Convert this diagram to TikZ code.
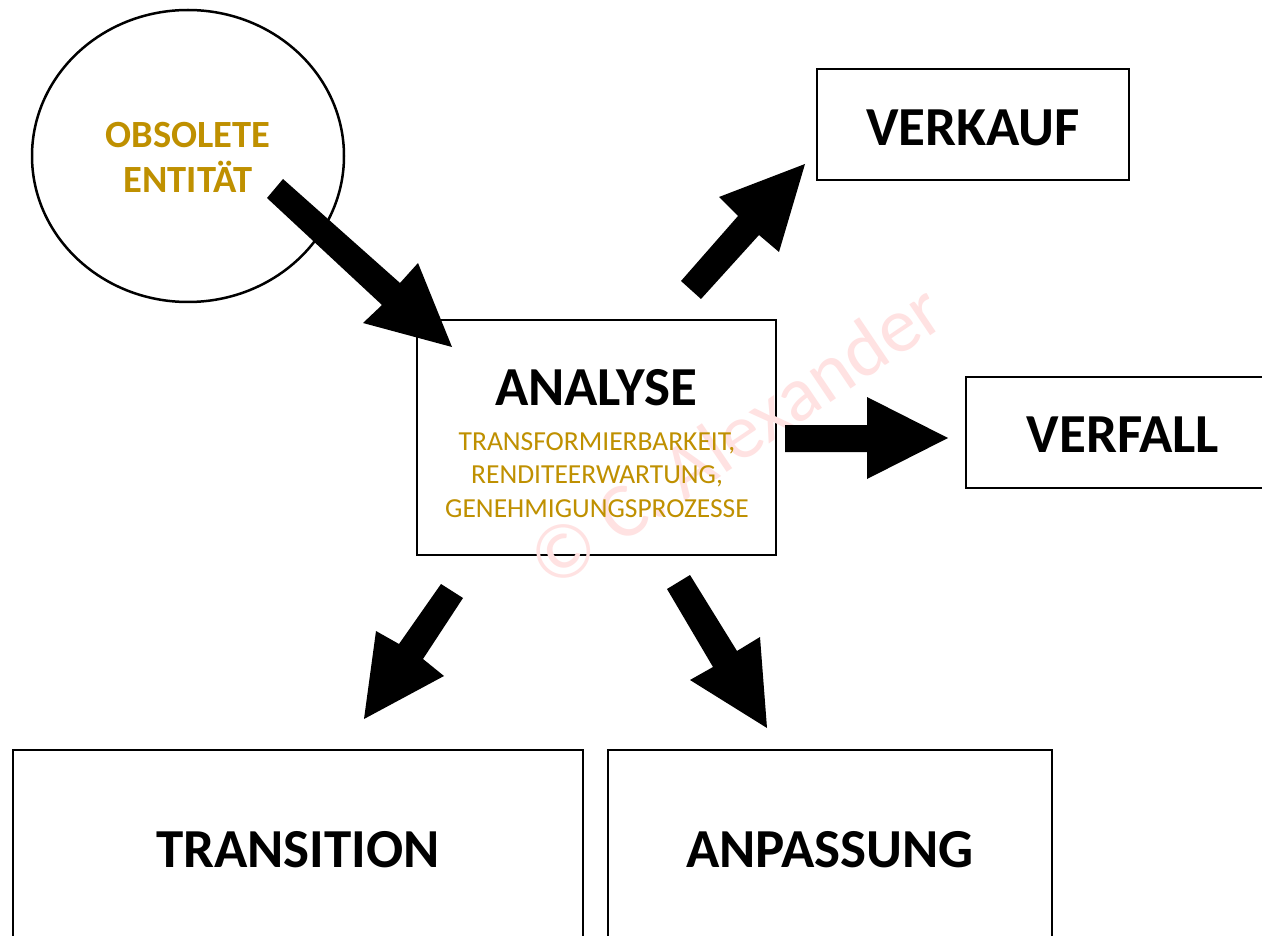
\documentclass[tikz,border=0pt]{standalone}
\usepackage{fontspec}
\setmainfont{Carlito}
\usetikzlibrary{shapes.geometric}
\definecolor{gold}{HTML}{BF9000}
\definecolor{wm}{HTML}{FFE2E2}
\begin{document}
\begin{tikzpicture}[x=1pt,y=-1pt,
  box/.style={draw=black,line width=2.5pt,fill=white,inner sep=0pt},
  title/.style={font=\fontsize{55}{60}\selectfont\bfseries,text=black},
  blockarrow/.style={fill=black}]
\clip (0,0) rectangle (1262,936);
\fill[white] (0,0) rectangle (1262,936);

% boxes
\node[box,ellipse,minimum width=312,minimum height=292] (obs) at (188,156) {};
\node[box,minimum width=312,minimum height=111] (verkauf) at (973,124.5) {};
\node[box,minimum width=359,minimum height=235] (analyse) at (596.5,437.5) {};
\node[box,minimum width=320,minimum height=111] (verfall) at (1126,432.5) {};
\node[box,minimum width=570,minimum height=230] (transition) at (298,865) {};
\node[box,minimum width=444,minimum height=230] (anpassung) at (830,865) {};

% watermark
\node[text=wm,rotate=34,font=\fontsize{78}{80}\selectfont] (wmark) at (735,435) {© C. Alexander};

% texts
\node[font=\fontsize{38.5}{45}\selectfont\bfseries,text=gold,align=center] (obstext) at (188,157) {OBSOLETE\\ENTITÄT};
\node[title] (verkauft) at (973,128) {VERKAUF};
\node[title] (analyset) at (596,388) {ANALYSE};
\node[font=\fontsize{27.5}{33.5}\selectfont,text=gold,align=center] (crit) at (597,475) {TRANSFORMIERBARKEIT,\\RENDITEERWARTUNG,\\GENEHMIGUNGSPROZESSE};
\node[title] (verfallt) at (1123,435) {VERFALL};
\node[title] (transitiont) at (298,850) {TRANSITION};
\node[title] (anpassungt) at (830,850) {ANPASSUNG};

% block arrows
\fill[blockarrow] (267,198) -- (283,179) -- (400,283) -- (418,263) -- (452,347) -- (363,323) -- (382,305) -- cycle;
\fill[blockarrow] (681,281) -- (738,216) -- (719,197) -- (805,164) -- (779,252) -- (759,235) -- (701,299) -- cycle;
\fill[blockarrow] (785,425) -- (867,425) -- (867,397) -- (948,438) -- (867,479) -- (867,452) -- (785,452) -- cycle;
\fill[blockarrow] (441,584) -- (463,598) -- (423,659) -- (444,676) -- (364,719) -- (376,631) -- (399,644) -- cycle;
\fill[blockarrow] (667,589) -- (690,575) -- (737,651) -- (760,637) -- (767,728) -- (690,680) -- (713,667) -- cycle;
\end{tikzpicture}
\end{document}
